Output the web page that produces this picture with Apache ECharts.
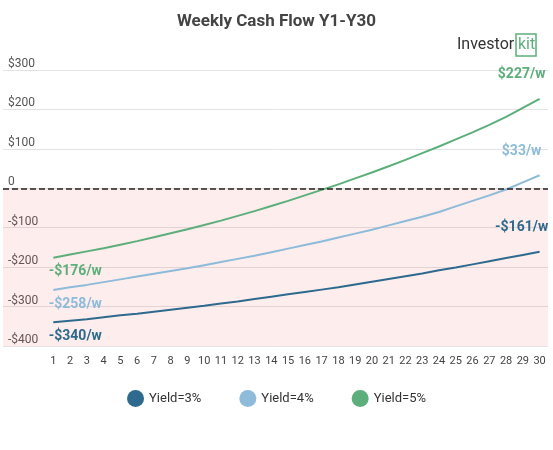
<!DOCTYPE html><html><head><meta charset="utf-8"><script src="https://cdn.jsdelivr.net/npm/echarts@6/dist/echarts.min.js"></script></head><body style="margin:0"><div id="c" style="width:553px;height:450px"></div><script>
const years=[];for(let i=1;i<=30;i++)years.push(i);
const seriesNames=['Yield=3%','Yield=4%','Yield=5%'];
const y3=[-340,-336,-332,-327,-322,-318,-313,-308,-303,-298,-292,-287,-281,-275,-269,-263,-257,-251,-244,-237,-230,-223,-216,-208,-201,-193,-185,-177,-169,-161];
const y4=[-258,-251,-245,-238,-231,-224,-217,-210,-203,-195,-187,-179,-171,-162,-153,-144,-135,-125,-115,-105,-94,-83,-72,-60,-46,-32,-18,-3,15,33];
const y5=[-176,-168,-160,-152,-143,-134,-124,-114,-104,-93,-82,-70,-58,-45,-32,-18,-4,10,25,40,56,72,89,106,124,142,161,181,204,227];
const colors=['#2e6a8e','#8dbbd9','#5caf7a'];
const fmt=v=>(v<0?'-$':'$')+Math.abs(v)+'/w';
function mk(name,data,color,extra){
 return {name,type:'line',data:data.map((v,i)=>[years[i],v]),symbol:'circle',symbolSize:0.1,showSymbol:true,lineStyle:{width:2,color},itemStyle:{color},
 label:{show:true,fontWeight:'bold',fontSize:14,color,fontFamily:'Roboto',formatter:p=>(p.dataIndex===0||p.dataIndex===29)?fmt(p.value[1]):'',
 position:'bottom'},labelLayout:p=>p.dataIndex===29?{dy:-36,dx:-18}:{dx:22,dy:2},...extra};
}
const s3=mk(seriesNames[0],y3,colors[0],{markArea:{silent:true,itemStyle:{color:'rgba(240,80,80,0.1)'},data:[[{yAxis:0,xAxis:-2},{yAxis:-400,xAxis:30.5}]]},
 markLine:{silent:true,symbol:'none',label:{show:false},lineStyle:{type:'dashed',color:'#222',width:1.5},data:[{yAxis:0}]}});
const chart=echarts.init(document.getElementById('c'));
chart.setOption({
 animation:false,textStyle:{fontFamily:'Roboto'},
 title:{text:'Weekly Cash Flow Y1-Y30',left:'center',top:8,textStyle:{fontSize:17,fontWeight:'bold',color:'#444'}},
 graphic:[{type:'text',left:457,top:37,style:{text:'Investor',fontSize:16,fill:'#333',fontFamily:'Roboto'}},
  {type:'rect',shape:{x:516,y:34,width:20,height:22},style:{fill:'none',stroke:'#5caf7a',lineWidth:1.5}},
  {type:'text',left:518,top:37,style:{text:'kit',fontSize:16,fill:'#5caf7a',fontFamily:'Roboto'}}],
 legend:{bottom:38,icon:'circle',itemWidth:17,itemHeight:17,itemGap:38,textStyle:{fontSize:13,color:'#333'},data:seriesNames},
 grid:{left:0,right:5,top:70,bottom:104},
 xAxis:{type:'value',min:-2,max:30.5,interval:1,axisLine:{show:false},axisTick:{show:false},splitLine:{show:false},
  axisLabel:{fontSize:11,color:'#444',formatter:v=>v>=1&&v<=30?String(v):'',margin:10}},
 yAxis:{type:'value',min:-400,max:300,interval:100,axisLine:{show:false},axisTick:{show:false},
  splitLine:{lineStyle:{color:'#e3e3e3'}},
  axisLabel:{inside:true,verticalAlign:'bottom',margin:5,fontSize:12,color:'#555',formatter:v=>v===0?'0':(v<0?'-$':'$')+Math.abs(v)}},
 series:[s3,mk(seriesNames[1],y4,colors[1],{}),mk(seriesNames[2],y5,colors[2],{})]
});
</script></body></html>
